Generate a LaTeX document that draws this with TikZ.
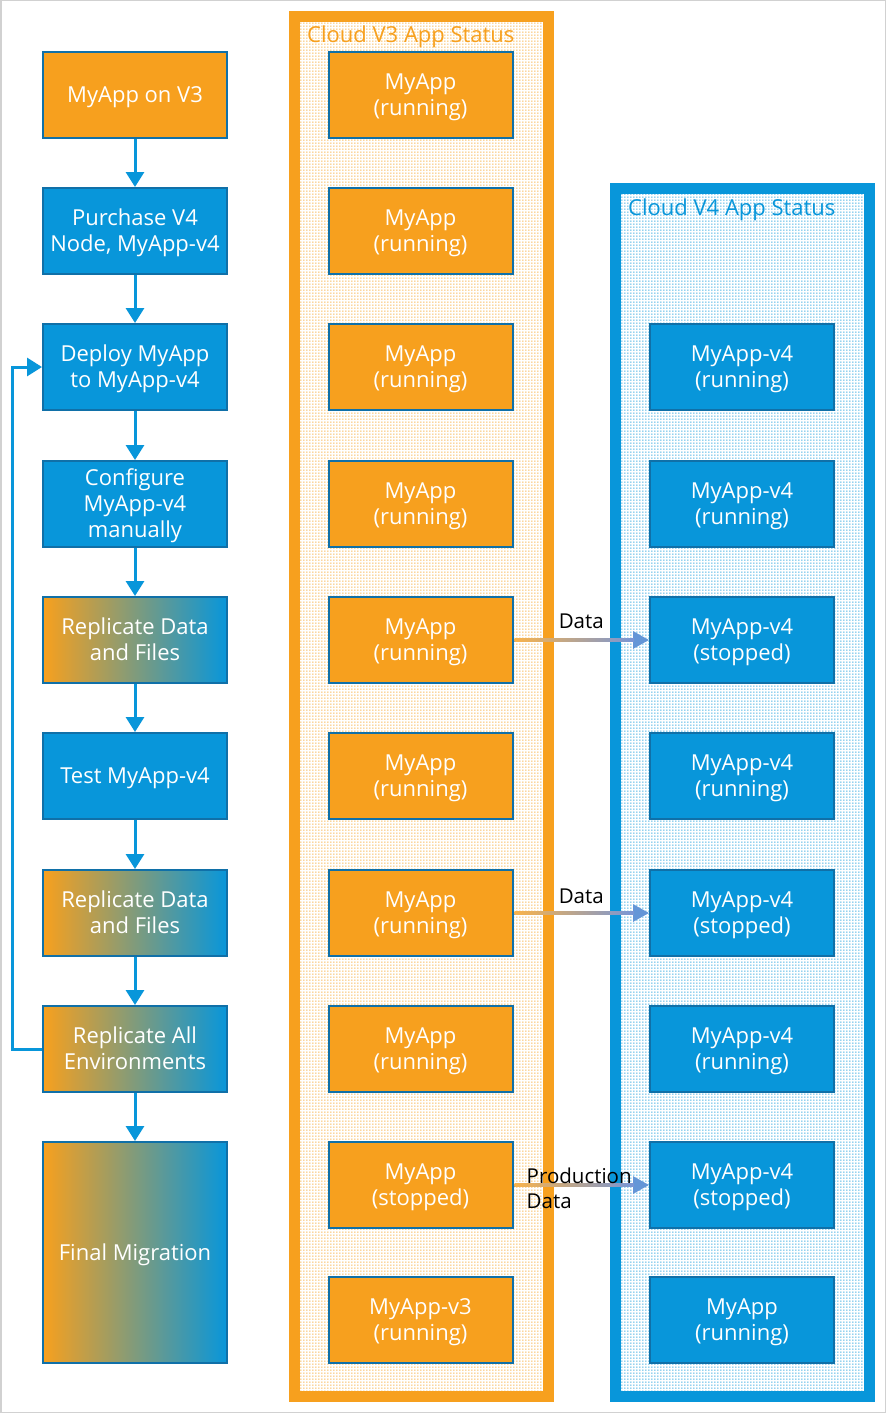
\documentclass[tikz,border=0pt]{standalone}
\usepackage{fontspec}
\setmainfont{Open Sans}
\usetikzlibrary{arrows.meta,patterns.meta,calc}
\definecolor{orng}{RGB}{247,160,30}
\definecolor{blu}{RGB}{8,150,218}
\definecolor{edge}{RGB}{16,112,168}
\definecolor{lav}{RGB}{120,150,215}
\definecolor{arrhead}{RGB}{100,150,215}
\tikzdeclarepattern{
  name=mydots, type=uncolored,
  bottom left={(0pt,0pt)}, top right={(3pt,3pt)}, tile size={(3pt,3pt)},
  code={\pgfpathrectangle{\pgfpoint{0.5pt}{0.5pt}}{\pgfpoint{1.3pt}{1.3pt}}\pgfusepath{fill}}
}
\tikzset{
  box/.style={draw=edge, line width=2pt, minimum width=184pt, minimum height=86pt, inner sep=0pt, align=center, text=white, font=\fontsize{22}{26}\selectfont, text depth=1.5pt},
  obox/.style={box, fill=orng},
  bbox/.style={box, fill=blu},
  gbox/.style={box, left color=orng, right color=blu},
  flow/.style={draw=blu, line width=3pt, -{Triangle[width=18pt,length=15pt]}},
  datalink/.style={draw=arrhead, line width=3pt, -{Triangle[width=17pt,length=16pt]}},
  lbl/.style={font=\fontsize{20.5}{25}\selectfont, text=black, inner sep=0pt},
  ttl/.style={font=\fontsize{22}{26}\selectfont, inner sep=0pt, anchor=west}
}
\begin{document}
\begin{tikzpicture}[x=1pt,y=-1pt]
\useasboundingbox (0,0) rectangle (886,1413);
\fill[white] (0,0) rectangle (886,1413);
\draw[black!18, line width=1.5pt] (0.75,0.75) rectangle (885.25,1412.25);
% containers
\draw[orng, line width=11pt, fill=white] (294.5,17) rectangle (548.5,1396);
\fill[pattern=mydots, pattern color=orng] (300,22.5) rectangle (543,1390.5);
\draw[blu, line width=11pt, fill=white] (615.5,188.5) rectangle (869.5,1396.5);
\fill[pattern=mydots, pattern color=blu] (621,194) rectangle (864,1391);
\node[ttl, text=orng] (t3) at (307,37) {Cloud V3 App Status};
\node[ttl, text=blu] (t4) at (628,210) {Cloud V4 App Status};
% left flow
\node[obox] (a1) at (135,95) {MyApp on V3};
\node[bbox] (a2) at (135,231) {Purchase V4\\Node, MyApp-v4};
\node[bbox] (a3) at (135,367) {Deploy MyApp\\to MyApp-v4};
\node[bbox] (a4) at (135,504) {Configure\\MyApp-v4\\manually};
\node[gbox] (a5) at (135,640) {Replicate Data\\and Files};
\node[bbox] (a6) at (135,776) {Test MyApp-v4};
\node[gbox] (a7) at (135,913) {Replicate Data\\and Files};
\node[gbox] (a8) at (135,1049) {Replicate All\\Environments};
\node[gbox, minimum height=221pt] (a9) at (135,1252.5) {Final Migration};
\foreach \i/\j in {a1/a2,a2/a3,a3/a4,a4/a5,a5/a6,a6/a7,a7/a8,a8/a9}
  \draw[flow] (\i.south) -- (\j.north);
\coordinate (l1) at (12,1049);
\coordinate (l2) at (12,367);
\draw[flow] (a8.west) -- (l1) -- (l2) -- (a3.west);
% V3 column
\node[obox] (v1) at (420.5,95) {MyApp\\(running)};
\node[obox] (v2) at (420.5,231) {MyApp\\(running)};
\node[obox] (v3) at (420.5,367) {MyApp\\(running)};
\node[obox] (v4) at (420.5,504) {MyApp\\(running)};
\node[obox] (v5) at (420.5,640) {MyApp\\(running)};
\node[obox] (v6) at (420.5,776) {MyApp\\(running)};
\node[obox] (v7) at (420.5,913) {MyApp\\(running)};
\node[obox] (v8) at (420.5,1049) {MyApp\\(running)};
\node[obox] (v9) at (420.5,1185) {MyApp\\(stopped)};
\node[obox] (v10) at (420.5,1320) {MyApp-v3\\(running)};
% V4 column
\node[bbox] (w3) at (742,367) {MyApp-v4\\(running)};
\node[bbox] (w4) at (742,504) {MyApp-v4\\(running)};
\node[bbox] (w5) at (742,640) {MyApp-v4\\(stopped)};
\node[bbox] (w6) at (742,776) {MyApp-v4\\(running)};
\node[bbox] (w7) at (742,913) {MyApp-v4\\(stopped)};
\node[bbox] (w8) at (742,1049) {MyApp-v4\\(running)};
\node[bbox] (w9) at (742,1185) {MyApp-v4\\(stopped)};
\node[bbox] (w10) at (742,1320) {MyApp\\(running)};
% data links
\foreach \s/\t in {v5/w5,v7/w7,v9/w9}{
  \draw[datalink] (\s.east) -- (\t.west);
  \shade[left color=orng!80!white, right color=lav] ($(\s.east)+(1,-1.5)$) rectangle ($(\t.west)+(-15,1.5)$);
}
\node[lbl] (d1) at ($(v5.east)!0.5!(w5.west)+(0,-19)$) {Data};
\node[lbl] (d2) at ($(v7.east)!0.5!(w7.west)+(0,-17)$) {Data};
\node[lbl, anchor=west, align=left] (d3) at ($(v9.east)+(13,3)$) {Production\\Data};
\end{tikzpicture}
\end{document}
